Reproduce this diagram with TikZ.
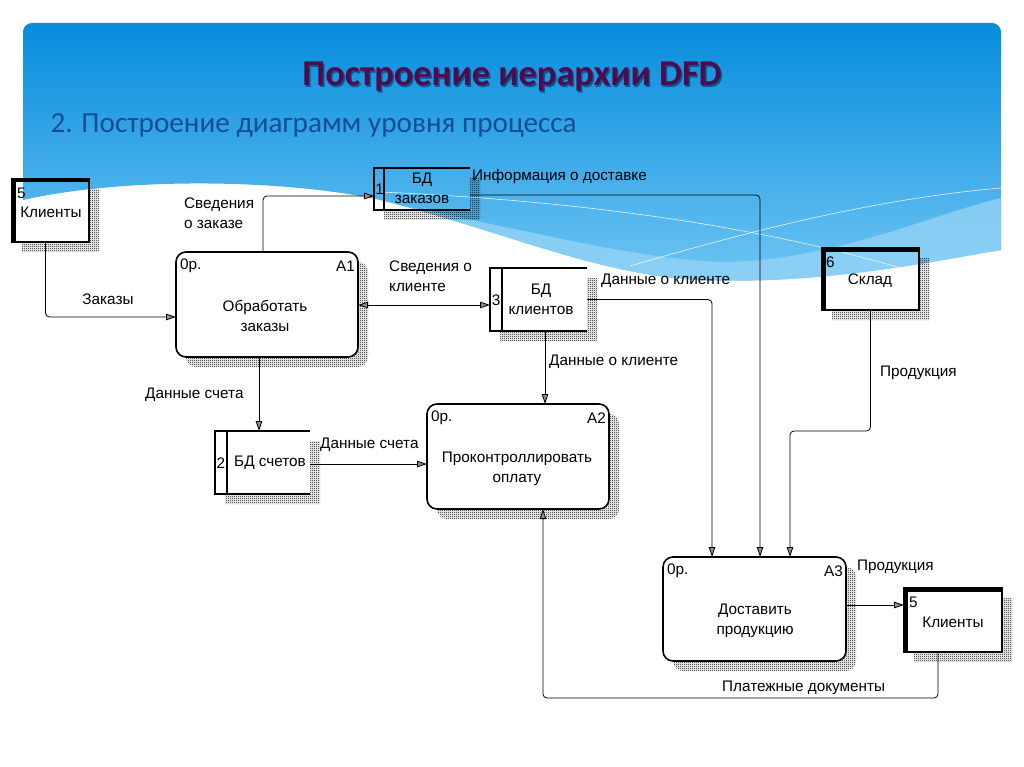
\documentclass[tikz,border=0pt]{standalone}
\usepackage{fontspec}
\setmainfont{Liberation Sans}
\newfontfamily\titlefont{Carlito}
\usetikzlibrary{arrows.meta,patterns,calc}

\definecolor{bluetop}{RGB}{6,140,220}
\definecolor{bluebot}{RGB}{112,198,244}
\definecolor{bandcol}{RGB}{150,212,246}
\definecolor{titlecol}{RGB}{78,12,78}
\definecolor{subcol}{RGB}{22,78,148}

\pgfdeclarepatternformonly{dither}{\pgfpointorigin}{\pgfpoint{2pt}{2pt}}{\pgfpoint{2pt}{2pt}}{%
  \pgfpathrectangle{\pgfpointorigin}{\pgfpoint{1pt}{1pt}}%
  \pgfpathrectangle{\pgfpoint{1pt}{1pt}}{\pgfpoint{1pt}{1pt}}%
  \pgfusepath{fill}}

\newcommand\dfdshadow[4]{%
  \fill[pattern=dither, pattern color=black]
    (#3,#2+10) -- (#3+10,#2+10) -- (#3+10,#4+10) -- (#1+10,#4+10) -- (#1+10,#4) -- (#3,#4) -- cycle;}
\newcommand\procshadow[4]{%
  \fill[pattern=dither, pattern color=black, rounded corners=10pt]
    (#1+10,#2+10) rectangle (#3+10,#4+10);}
\newcommand\thickent[1]{%
  \draw[line width=4pt] ([yshift=-1.5pt]#1.north west) -- ([yshift=-1.5pt]#1.north east);
  \draw[line width=4.5pt] ([xshift=1.8pt]#1.north west) -- ([xshift=1.8pt]#1.south west);}
\newcommand\storelines[2]{%
  \draw[line width=1.8pt] (#1.north east) -- (#1.north west) -- (#1.south west) -- (#1.south east);
  \draw[line width=1.5pt] ([xshift=#2pt]#1.north west) -- ([xshift=#2pt]#1.south west);}

\tikzset{
  proc/.style={draw, line width=1.6pt, rounded corners=10pt, fill=white, inner sep=0pt, outer sep=0pt},
  ent/.style={draw, line width=1.4pt, inner sep=0pt, outer sep=0pt},
  storebox/.style={inner sep=0pt, outer sep=0pt},
  tip/.tip={Triangle[length=10pt,width=6.5pt,fill=black!45]},
  flow/.style={line width=0.8pt, rounded corners=4pt, -tip},
  flowboth/.style={line width=0.8pt, tip-tip},
  lbl/.style={font=\fontsize{15.3}{20}\selectfont, inner sep=0pt},
}

\begin{document}
\begin{tikzpicture}[x=1pt,y=-1pt]
\useasboundingbox (0,0) rectangle (1024,767);
\fill[white] (0,0) rectangle (1024,767);

% ---------- background header ----------
\begin{scope}
  \clip[rounded corners=9pt] (23,23) rectangle (1001,420);
  \clip (23,200) -- (23,23) -- (1001,23) -- (1001,250)
     .. controls (930,262) and (820,285) .. (700,280)
     .. controls (600,276) and (500,230) .. (380,200)
     .. controls (290,180) and (130,176) .. (23,200) -- cycle;
  \shade[top color=bluetop, bottom color=bluebot] (23,23) rectangle (1001,285);
  \fill[bandcol, opacity=0.75] (320,190) .. controls (500,222) and (620,258) .. (720,262)
     .. controls (830,262) and (930,215) .. (1001,198) -- (1001,290) -- (320,290) -- cycle;
  \draw[white, line width=0.6pt, opacity=0.85] (380,192) .. controls (560,200) and (760,222) .. (940,280);
  \draw[white, line width=0.6pt, opacity=0.85] (630,266) .. controls (720,240) and (860,200) .. (1001,188);
\end{scope}

% ---------- titles ----------
\node[text=black!35!bluetop, font=\titlefont\bfseries\fontsize{36.4}{40}\selectfont] at (513.5,78.5) {Построение иерархии DFD};
\node[text=titlecol, font=\titlefont\bfseries\fontsize{36.4}{40}\selectfont] (title) at (512,77) {Построение иерархии DFD};
\node[text=subcol, font=\titlefont\fontsize{29.2}{34}\selectfont, anchor=west] (subtitle) at (47,125) {2. Построение диаграмм уровня процесса};

% ---------- shadows ----------
\dfdshadow{12}{179}{89}{242}
\dfdshadow{374}{168}{470}{210}
\procshadow{176}{252}{358}{357}
\dfdshadow{490}{268}{587}{331}
\dfdshadow{215}{431}{310}{494}
\procshadow{427}{404}{609}{509}
\dfdshadow{822}{248}{919}{310}
\procshadow{663}{557}{846}{661}
\dfdshadow{904}{588}{1002}{652}

% ---------- nodes ----------
\node[ent, minimum width=77pt, minimum height=63pt] (k1) at (50.5,210.5) {};
\thickent{k1}
\node[storebox, minimum width=96pt, minimum height=42pt] (s1) at (422,189) {};
\storelines{s1}{10}
\node[proc, minimum width=182pt, minimum height=105pt] (a1) at (267,304.5) {};
\node[storebox, minimum width=97pt, minimum height=63pt] (s3) at (538.5,299.5) {};
\storelines{s3}{12}
\node[storebox, minimum width=95pt, minimum height=63pt] (s2) at (262.5,462.5) {};
\storelines{s2}{12}
\node[proc, minimum width=182pt, minimum height=105pt] (a2) at (518,456.5) {};
\node[ent, minimum width=97pt, minimum height=62pt] (k6) at (870.5,279) {};
\thickent{k6}
\node[proc, minimum width=183pt, minimum height=104pt] (a3) at (754.5,609) {};
\node[ent, minimum width=98pt, minimum height=64pt] (k5) at (953,620) {};
\thickent{k5}

% ---------- node texts ----------
\node[lbl, anchor=west] (k1n) at (17,193) {5};
\node[lbl] (k1t) at (51,212) {Клиенты};
\node[lbl] (s1n) at (379.5,189) {1};
\node[lbl, align=center] (s1t) at (422,188) {БД\\заказов};
\node[lbl, anchor=west] (a1n) at (180,266) {0р.};
\node[lbl, anchor=east] (a1c) at (355,266) {A1};
\node[lbl, align=center] (a1t) at (265,316) {Обработать\\заказы};
\node[lbl] (s3n) at (496,300) {3};
\node[lbl, align=center] (s3t) at (541,299) {БД\\клиентов};
\node[lbl] (s2n) at (221,463) {2};
\node[lbl] (s2t) at (270,463) {БД счетов};
\node[lbl, anchor=west] (a2n) at (431,418) {0р.};
\node[lbl, anchor=east] (a2c) at (606,418) {A2};
\node[lbl, align=center] (a2t) at (517,469) {Проконтроллировать\\оплату};
\node[lbl, anchor=west] (k6n) at (826,262) {6};
\node[lbl] (k6t) at (870,281) {Склад};
\node[lbl, anchor=west] (a3n) at (667,571) {0р.};
\node[lbl, anchor=east] (a3c) at (843,571) {A3};
\node[lbl, align=center] (a3t) at (755,621) {Доставить\\продукцию};
\node[lbl, anchor=west] (k5n) at (909,602) {5};
\node[lbl] (k5t) at (953,622) {Клиенты};

% ---------- connectors ----------
\coordinate (ci) at (790,431);
\coordinate (cb) at (543,698);
\draw[flow] ([xshift=-5pt]k1.south) |- ([yshift=-12.5pt]a1.west);
\draw[flow] ([xshift=-4pt]a1.north) |- ([yshift=-7pt]s1.west);
\draw[flow] ([yshift=-6pt]s1.east) -| ([xshift=5.5pt]a3.north);
\draw[flowboth] ([yshift=-0.5pt]a1.east) -- ([yshift=-0.5pt]a1.east -| s3.west);
\draw[flow] (s3.east) -| ([xshift=-42.5pt]a3.north);
\draw[flow] ([xshift=6.5pt]s3.south) -- ([xshift=6.5pt]s3.south |- a2.north);
\draw[flow] ([xshift=-8pt]a1.south) -- ([xshift=-8pt]a1.south |- s2.north);
\draw[flow] ([yshift=-1.5pt]s2.east) -- ([yshift=-1.5pt]s2.east -| a2.west);
\draw[flow] (k6.south) |- (ci) -- (ci |- a3.north);
\draw[flow] ([yshift=4pt]a3.east) -- ([yshift=4pt]a3.east -| k5.west);
\draw[flow] ([xshift=-15pt]k5.south) |- (cb) -- (cb |- a2.south);

% ---------- connector labels ----------
\node[lbl] (l1) at (108,299) {Заказы};
\node[lbl, anchor=west, align=left] (l2) at (184,213) {Сведения\\о заказе};
\node[lbl, anchor=west] (l3) at (472,177) {Информация о доставке};
\node[lbl, anchor=west, align=left] (l4) at (389,276) {Сведения о\\клиенте};
\node[lbl, anchor=west] (l5) at (601,281) {Данные о клиенте};
\node[lbl, anchor=west] (l6) at (549,362) {Данные о клиенте};
\node[lbl, anchor=west] (l7) at (145,395) {Данные счета};
\node[lbl, anchor=west] (l8) at (320,445) {Данные счета};
\node[lbl, anchor=west] (l9) at (880,373) {Продукция};
\node[lbl, anchor=west] (l10) at (857,567) {Продукция};
\node[lbl, anchor=west] (l11) at (722,688) {Платежные документы};
\end{tikzpicture}
\end{document}
